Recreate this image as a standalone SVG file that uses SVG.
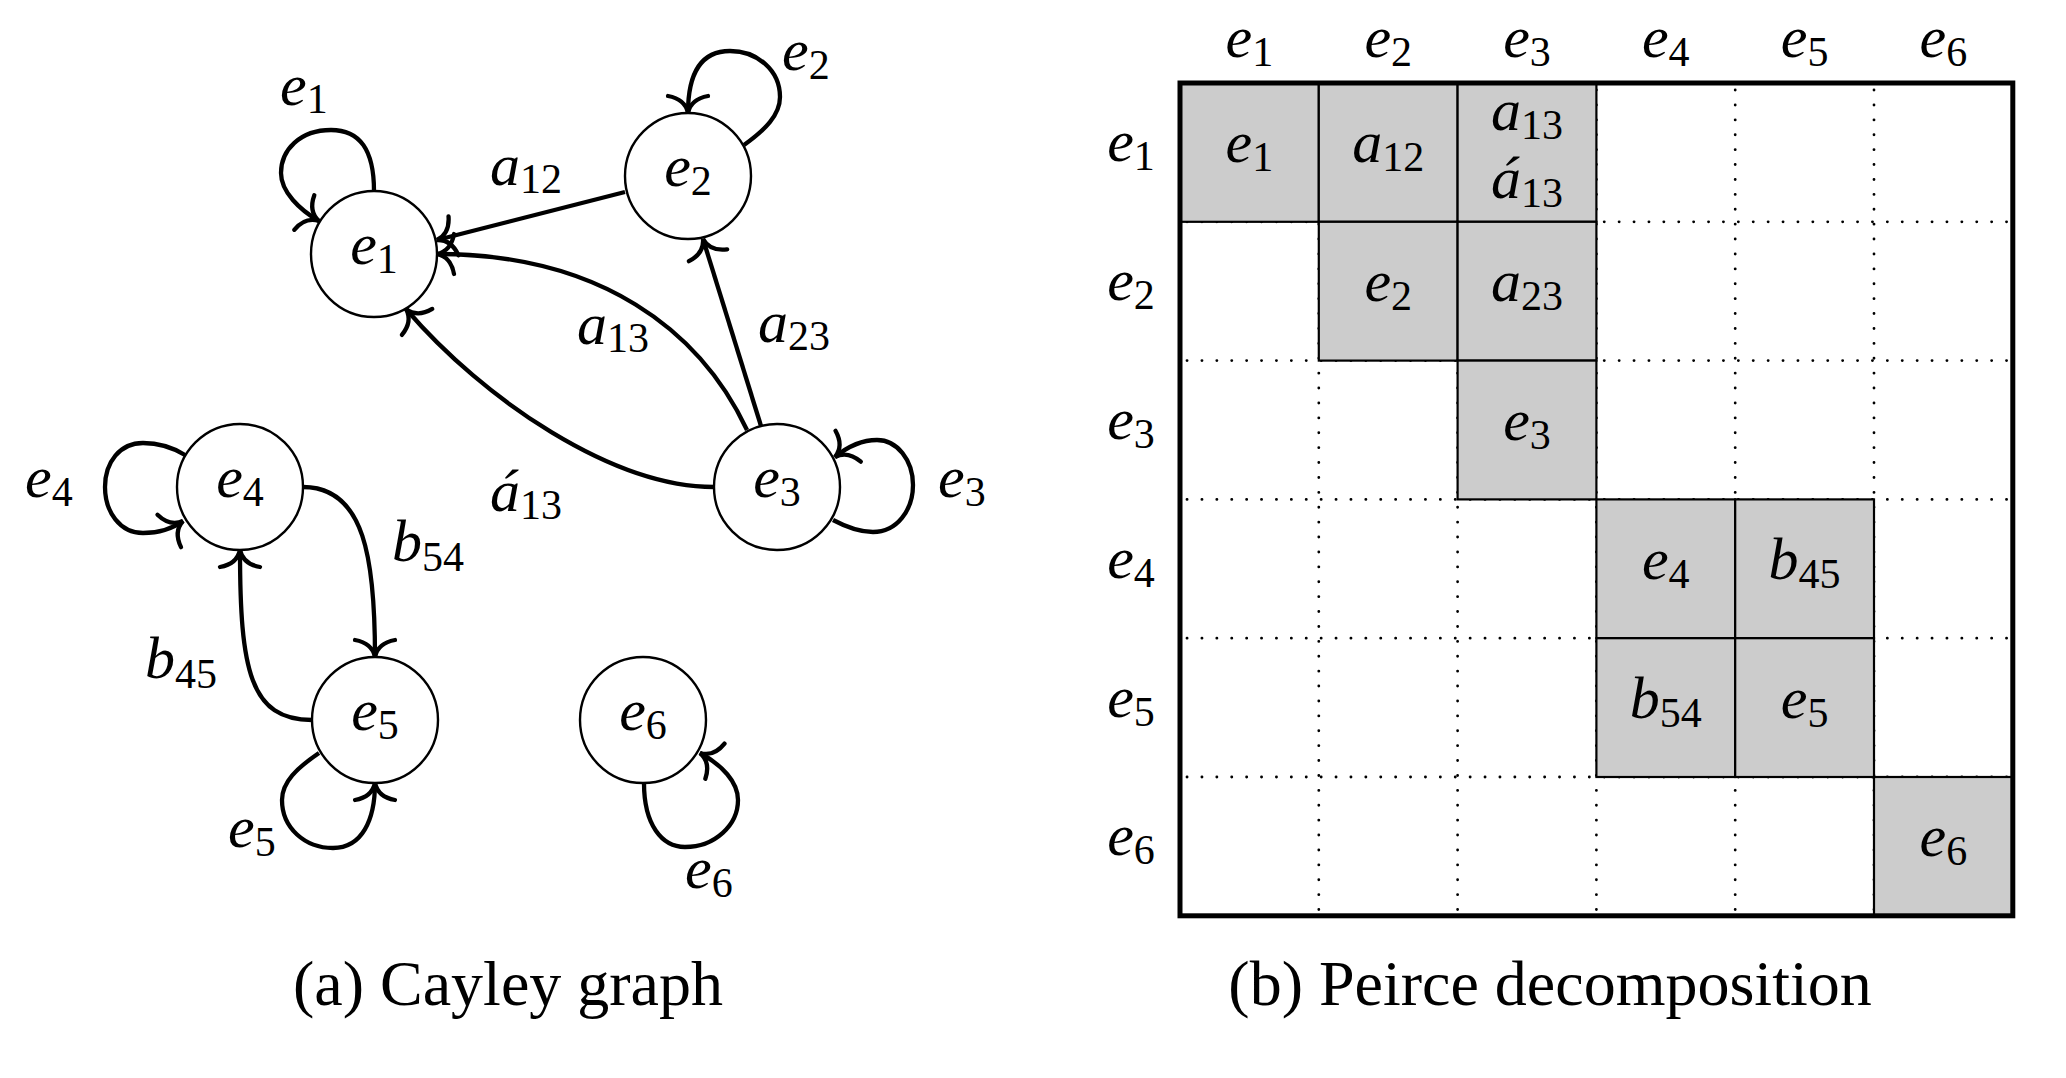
<svg xmlns="http://www.w3.org/2000/svg" width="2066" height="1078" viewBox="0 0 2066 1078">
<style>
text{font-family:"Liberation Serif","Times New Roman",serif;font-size:60px;fill:#000}
.c{text-anchor:middle}
.i{font-style:italic}
.s{font-size:42px}
.cap{font-size:64px}
.node circle{fill:#fff;stroke:#000;stroke-width:2.4}
.edge{fill:none;stroke:#000;stroke-width:4.3;marker-end:url(#arr)}
.dot{stroke:#000;stroke-width:2.8;stroke-linecap:round;stroke-dasharray:0.1 14.8}
.cell{fill:#ccc;stroke:#000;stroke-width:2.2}
</style>
<defs>
<marker id="arr" markerUnits="userSpaceOnUse" viewBox="-30 -30 60 60" markerWidth="60" markerHeight="60" refX="0" refY="0" orient="auto" overflow="visible">
<path d="M -17,-20 Q -14,-3 0,0 Q -14,3 -17,20" fill="none" stroke="#000" stroke-width="4.3" stroke-linecap="round"/>
</marker>
</defs>
<rect width="2066" height="1078" fill="#fff"/>

<g id="connectors">
<path class="edge" d="M 374,191 C 374,150 360,130 331,130 C 300,130 281,150 281,173 C 281,192 300,210 319,221"/>
<path class="edge" d="M 744,145 C 765,130 780,115 780,97 C 780,70 757,51 730,51 C 700,51 688,75 688,113"/>
<path class="edge" d="M 833,520 C 848,528 860,532 873,532 C 897,532 913,510 913,485 C 913,460 897,440 877,440 C 860,440 846,448 835,457"/>
<path class="edge" d="M 185,455 C 172,447 158,443 143,443 C 120,443 105,462 105,487 C 105,512 120,533 143,533 C 158,533 172,529 183,521"/>
<path class="edge" d="M 319,753 C 297,768 282,782 282,800 C 282,828 305,848 333,848 C 362,848 375,820 375,783"/>
<path class="edge" d="M 644,783 C 644,825 662,847 685,847 C 715,847 738,825 738,800 C 738,782 722,765 700,753"/>
<path class="edge" d="M 625,192 L 437,240"/>
<path class="edge" d="M 747,430 C 700,330 600,254 437,254"/>
<path class="edge" d="M 714,487 C 613,487 484,400 406,309"/>
<path class="edge" d="M 761,426 L 703,239"/>
<path class="edge" d="M 303,487 C 365,487 375,560 375,657"/>
<path class="edge" d="M 312,720 C 250,720 240,670 240,550"/>
</g>

<g id="edge-labels">
<text x="280" y="105"><tspan class="i">e</tspan><tspan class="s" dy="8">1</tspan></text>
<text x="782" y="70"><tspan class="i">e</tspan><tspan class="s" dy="9">2</tspan></text>
<text x="938" y="497"><tspan class="i">e</tspan><tspan class="s" dy="9">3</tspan></text>
<text x="25" y="497"><tspan class="i">e</tspan><tspan class="s" dy="9">4</tspan></text>
<text x="228" y="847"><tspan class="i">e</tspan><tspan class="s" dy="9">5</tspan></text>
<text x="685" y="888"><tspan class="i">e</tspan><tspan class="s" dy="9">6</tspan></text>
<text x="490" y="185"><tspan class="i">a</tspan><tspan class="s" dy="8">12</tspan></text>
<text x="577" y="344"><tspan class="i">a</tspan><tspan class="s" dy="8">13</tspan></text>
<text x="758" y="342"><tspan class="i">a</tspan><tspan class="s" dy="8">23</tspan></text>
<text x="490" y="511"><tspan class="i">á</tspan><tspan class="s" dy="8">13</tspan></text>
<text x="392" y="561"><tspan class="i">b</tspan><tspan class="s" dy="10">54</tspan></text>
<text x="145" y="678"><tspan class="i">b</tspan><tspan class="s" dy="10">45</tspan></text>
</g>

<g id="node-e1" class="node"><circle cx="374" cy="254" r="63"/><text class="c" x="374" y="264"><tspan class="i">e</tspan><tspan class="s" dy="9">1</tspan></text></g>
<g id="node-e2" class="node"><circle cx="688" cy="176" r="63"/><text class="c" x="688" y="186"><tspan class="i">e</tspan><tspan class="s" dy="9">2</tspan></text></g>
<g id="node-e3" class="node"><circle cx="777" cy="487" r="63"/><text class="c" x="777" y="497"><tspan class="i">e</tspan><tspan class="s" dy="9">3</tspan></text></g>
<g id="node-e4" class="node"><circle cx="240" cy="487" r="63"/><text class="c" x="240" y="497"><tspan class="i">e</tspan><tspan class="s" dy="9">4</tspan></text></g>
<g id="node-e5" class="node"><circle cx="375" cy="720" r="63"/><text class="c" x="375" y="730"><tspan class="i">e</tspan><tspan class="s" dy="9">5</tspan></text></g>
<g id="node-e6" class="node"><circle cx="643" cy="720" r="63"/><text class="c" x="643" y="730"><tspan class="i">e</tspan><tspan class="s" dy="9">6</tspan></text></g>

<text class="c cap" x="508" y="1005">(a) Cayley graph</text>

<g id="peirce-matrix">
<g id="grid-dotted">
<line class="dot" x1="1318.8" y1="90" x2="1318.8" y2="912"/>
<line class="dot" x1="1457.6" y1="90" x2="1457.6" y2="912"/>
<line class="dot" x1="1596.4" y1="90" x2="1596.4" y2="912"/>
<line class="dot" x1="1735.2" y1="90" x2="1735.2" y2="912"/>
<line class="dot" x1="1874" y1="90" x2="1874" y2="912"/>
<line class="dot" x1="1187" y1="221.8" x2="2008" y2="221.8"/>
<line class="dot" x1="1187" y1="360.6" x2="2008" y2="360.6"/>
<line class="dot" x1="1187" y1="499.4" x2="2008" y2="499.4"/>
<line class="dot" x1="1187" y1="638.2" x2="2008" y2="638.2"/>
<line class="dot" x1="1187" y1="777" x2="2008" y2="777"/>
</g>
<g id="cells">
<rect class="cell" x="1180" y="83" width="138.8" height="138.8"/>
<rect class="cell" x="1318.8" y="83" width="138.8" height="138.8"/>
<rect class="cell" x="1457.6" y="83" width="138.8" height="138.8"/>
<rect class="cell" x="1318.8" y="221.8" width="138.8" height="138.8"/>
<rect class="cell" x="1457.6" y="221.8" width="138.8" height="138.8"/>
<rect class="cell" x="1457.6" y="360.6" width="138.8" height="138.8"/>
<rect class="cell" x="1596.4" y="499.4" width="138.8" height="138.8"/>
<rect class="cell" x="1735.2" y="499.4" width="138.8" height="138.8"/>
<rect class="cell" x="1596.4" y="638.2" width="138.8" height="138.8"/>
<rect class="cell" x="1735.2" y="638.2" width="138.8" height="138.8"/>
<rect class="cell" x="1874" y="777" width="138.8" height="138.8"/>
</g>
<rect x="1180" y="83" width="832.8" height="832.8" fill="none" stroke="#000" stroke-width="5"/>
<g id="col-headers">
<text class="c" x="1249.4" y="57"><tspan class="i">e</tspan><tspan class="s" dy="9">1</tspan></text>
<text class="c" x="1388.2" y="57"><tspan class="i">e</tspan><tspan class="s" dy="9">2</tspan></text>
<text class="c" x="1527" y="57"><tspan class="i">e</tspan><tspan class="s" dy="9">3</tspan></text>
<text class="c" x="1665.8" y="57"><tspan class="i">e</tspan><tspan class="s" dy="9">4</tspan></text>
<text class="c" x="1804.6" y="57"><tspan class="i">e</tspan><tspan class="s" dy="9">5</tspan></text>
<text class="c" x="1943.4" y="57"><tspan class="i">e</tspan><tspan class="s" dy="9">6</tspan></text>
</g>
<g id="row-headers">
<text class="c" x="1131" y="161"><tspan class="i">e</tspan><tspan class="s" dy="9">1</tspan></text>
<text class="c" x="1131" y="300"><tspan class="i">e</tspan><tspan class="s" dy="9">2</tspan></text>
<text class="c" x="1131" y="439"><tspan class="i">e</tspan><tspan class="s" dy="9">3</tspan></text>
<text class="c" x="1131" y="578"><tspan class="i">e</tspan><tspan class="s" dy="9">4</tspan></text>
<text class="c" x="1131" y="717"><tspan class="i">e</tspan><tspan class="s" dy="9">5</tspan></text>
<text class="c" x="1131" y="855"><tspan class="i">e</tspan><tspan class="s" dy="9">6</tspan></text>
</g>
<g id="cell-labels">
<text class="c" x="1249.4" y="162"><tspan class="i">e</tspan><tspan class="s" dy="9">1</tspan></text>
<text class="c" x="1388.2" y="162"><tspan class="i">a</tspan><tspan class="s" dy="9">12</tspan></text>
<text class="c" x="1527" y="130"><tspan class="i">a</tspan><tspan class="s" dy="9">13</tspan></text>
<text class="c" x="1527" y="198"><tspan class="i">á</tspan><tspan class="s" dy="9">13</tspan></text>
<text class="c" x="1388.2" y="301"><tspan class="i">e</tspan><tspan class="s" dy="9">2</tspan></text>
<text class="c" x="1527" y="301"><tspan class="i">a</tspan><tspan class="s" dy="9">23</tspan></text>
<text class="c" x="1527" y="440"><tspan class="i">e</tspan><tspan class="s" dy="9">3</tspan></text>
<text class="c" x="1665.8" y="579"><tspan class="i">e</tspan><tspan class="s" dy="9">4</tspan></text>
<text class="c" x="1804.6" y="579"><tspan class="i">b</tspan><tspan class="s" dy="9">45</tspan></text>
<text class="c" x="1665.8" y="718"><tspan class="i">b</tspan><tspan class="s" dy="9">54</tspan></text>
<text class="c" x="1804.6" y="718"><tspan class="i">e</tspan><tspan class="s" dy="9">5</tspan></text>
<text class="c" x="1943.4" y="856"><tspan class="i">e</tspan><tspan class="s" dy="9">6</tspan></text>
</g>
</g>

<text class="c cap" x="1550" y="1005">(b) Peirce decomposition</text>
</svg>
